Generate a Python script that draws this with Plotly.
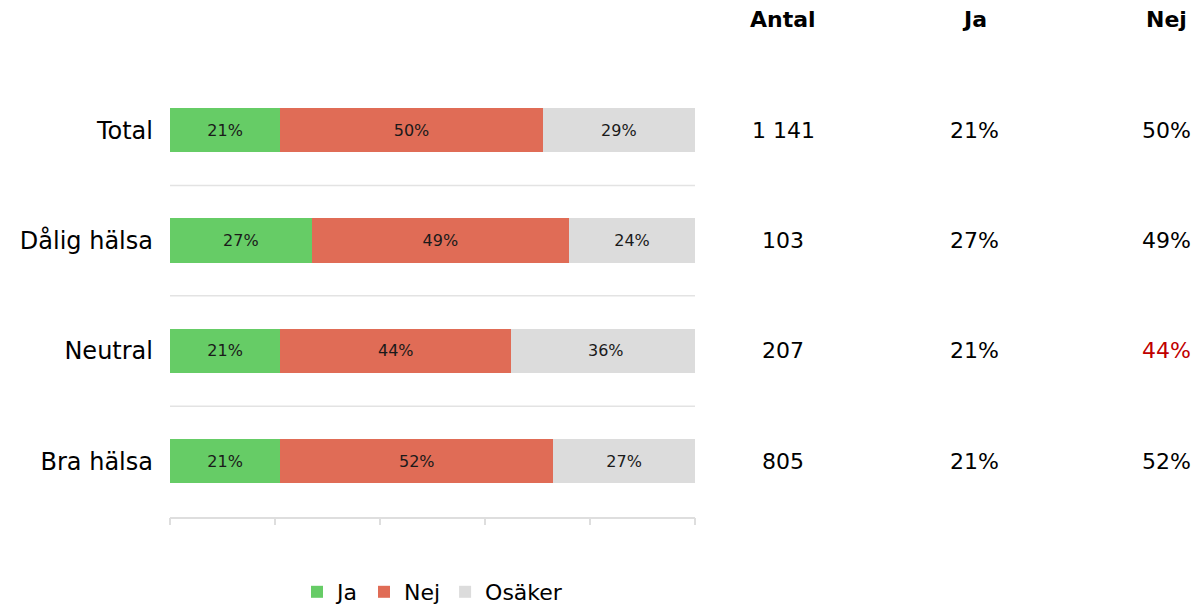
import plotly.graph_objects as go

categories = ["Total", "Dålig hälsa", "Neutral", "Bra hälsa"]
ja = [21, 27, 21, 21]
nej = [50, 49, 44, 52]
osaker = [29, 24, 36, 27]
antal = [1141, 103, 207, 805]
series_names = ["Ja", "Nej", "Osäker"]
colors = ["#66CC66", "#E06C56", "#DCDCDC"]
table_headers = ["Antal", "Ja", "Nej"]
highlight = {("Nej", "Neutral"): "#C00000"}
tick_positions = [0, 20, 40, 60, 80, 100]

FONT = "DejaVu Sans"
W, H = 1196, 604
x0, x1 = 170 / W, 695 / W
y_top_px, y_bot_px = 75, 516.5

fig = go.Figure()
for name, vals, col in zip(series_names, [ja, nej, osaker], colors):
    fig.add_trace(go.Bar(
        y=categories, x=vals, name=name, orientation="h",
        marker=dict(color=col, line=dict(width=0)),
        width=0.4,
        text=[f"{v}%" for v in vals], textposition="inside",
        insidetextanchor="middle", textangle=0,
        textfont=dict(family=FONT, size=16, color="#1a1a1a"),
        hoverinfo="skip",
    ))

# separators between categories
for i in range(len(categories) - 1):
    fig.add_shape(type="line", xref="paper", yref="y",
                  x0=x0, x1=x1, y0=i + 0.5, y1=i + 0.5,
                  line=dict(color="#E3E3E3", width=1.5))

# table
col_x = [783, 974, 1166]
for hx, h in zip(col_x, table_headers):
    fig.add_annotation(x=hx / W, y=1 - 20 / H, xref="paper", yref="paper",
                       text=f"<b>{h}</b>", showarrow=False,
                       font=dict(family=FONT, size=22, color="#000"),
                       xanchor="center", yanchor="middle")

for i, cat in enumerate(categories):
    vals = [f"{antal[i]:,}".replace(",", " "), f"{ja[i]}%", f"{nej[i]}%"]
    for hx, h, v in zip(col_x, table_headers, vals):
        c = highlight.get((h, cat), "#000")
        fig.add_annotation(x=hx / W, y=cat, xref="paper", yref="y",
                           text=v, showarrow=False,
                           font=dict(family=FONT, size=22, color=c),
                           xanchor="center", yanchor="middle")

fig.update_layout(
    barmode="stack",
    width=W, height=H,
    margin=dict(l=0, r=0, t=0, b=0, autoexpand=False),
    paper_bgcolor="white", plot_bgcolor="white",
    showlegend=True,
    legend=dict(orientation="h", x=(x0 + x1) / 2, xanchor="center",
                y=1 - 592 / H, yanchor="middle",
                font=dict(family=FONT, size=22, color="#000"),
                itemwidth=30, traceorder="normal"),
    xaxis=dict(domain=[x0, x1], range=[0, 100], showgrid=False,
               zeroline=False, showticklabels=False,
               showline=True, linecolor="#DEDEDE", linewidth=1.5,
               ticks="outside", tickcolor="#DEDEDE", ticklen=7, tickwidth=1.5,
               tickvals=tick_positions),
    xaxis2=dict(overlaying="x", domain=[x0, x1], range=[0, 100],
                anchor="y", side="bottom", showgrid=False, zeroline=False,
                showticklabels=False, showline=False,
                ticks="inside", tickcolor="#DEDEDE", ticklen=5, tickwidth=1.5,
                tickvals=tick_positions),
    yaxis=dict(domain=[1 - y_bot_px / H, 1 - y_top_px / H],
               categoryorder="array", categoryarray=categories,
               autorange="reversed", showgrid=False, zeroline=False,
               showline=False, ticks="",
               tickfont=dict(family=FONT, size=24, color="#000"),
               ticklabelstandoff=16),
)

fig.write_html("out.html", config={"displayModeBar": False},
               post_script="document.body.style.margin='0';")
